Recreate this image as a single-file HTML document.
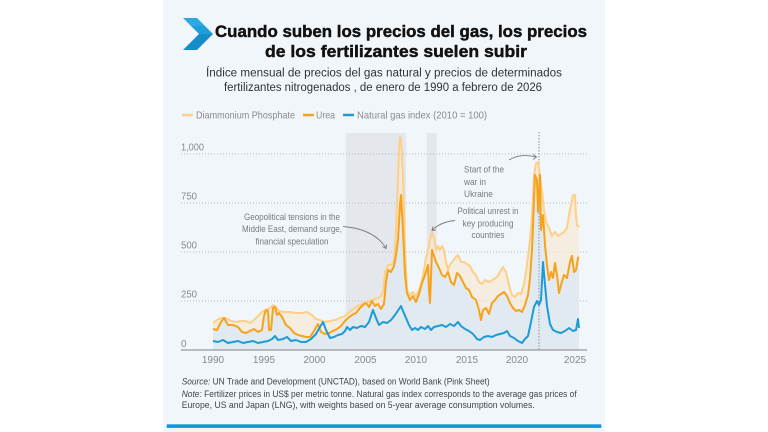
<!DOCTYPE html>
<html><head><meta charset="utf-8">
<style>
html,body{margin:0;padding:0;background:#fff;width:768px;height:432px;overflow:hidden}
svg{display:block}
text{font-family:"Liberation Sans",Arial,sans-serif}
</style></head>
<body>
<svg width="768" height="432" viewBox="0 0 768 432" xmlns="http://www.w3.org/2000/svg">
<rect x="0" y="0" width="768" height="432" fill="#ffffff"/>
<rect x="163" y="0" width="442" height="432" fill="#f1f6fb"/>

<!-- chevron -->
<polygon points="183,18 197,18 205,26 191,26" fill="#2aa9e2"/>
<polygon points="191,26 205,26 213,34 199,34" fill="#1f9ed9"/>
<polygon points="199,34 213,34 197,50 183,50" fill="#168ccb"/>

<!-- title -->
<text x="215" y="37" font-size="17" font-weight="bold" fill="#111" stroke="#111" stroke-width="0.45" textLength="372" lengthAdjust="spacingAndGlyphs">Cuando suben los precios del gas, los precios</text>
<text x="265" y="57" font-size="17" font-weight="bold" fill="#111" stroke="#111" stroke-width="0.45" textLength="262" lengthAdjust="spacingAndGlyphs">de los fertilizantes suelen subir</text>
<text x="206" y="76.5" font-size="11.5" fill="#333" textLength="356" lengthAdjust="spacingAndGlyphs">Índice mensual de precios del gas natural y precios de determinados</text>
<text x="224" y="91" font-size="11.5" fill="#333" textLength="318" lengthAdjust="spacingAndGlyphs">fertilizantes nitrogenados , de enero de 1990 a febrero de 2026</text>

<!-- legend -->
<line x1="182" y1="115" x2="193" y2="115" stroke="#fcd08a" stroke-width="2.5"/>
<text x="196" y="118.5" font-size="10.5" fill="#8a8a8a" textLength="99" lengthAdjust="spacingAndGlyphs">Diammonium Phosphate</text>
<line x1="303" y1="115" x2="314" y2="115" stroke="#f7a21b" stroke-width="2.5"/>
<text x="316" y="118.5" font-size="10.5" fill="#8a8a8a" textLength="19" lengthAdjust="spacingAndGlyphs">Urea</text>
<line x1="343" y1="115" x2="354" y2="115" stroke="#1d9bd7" stroke-width="2.5"/>
<text x="357" y="118.5" font-size="10.5" fill="#8a8a8a" textLength="130" lengthAdjust="spacingAndGlyphs">Natural gas index (2010 = 100)</text>

<!-- shaded periods -->
<rect x="345.7" y="133" width="60.3" height="217" fill="#e4e8ed"/>
<rect x="426.7" y="133" width="10" height="217" fill="#e4e8ed"/>

<!-- gridlines -->
<g stroke="#b5b9bf" stroke-width="0.9" stroke-dasharray="1 2">
<line x1="181" y1="154" x2="587" y2="154"/>
<line x1="181" y1="203" x2="587" y2="203"/>
<line x1="181" y1="252" x2="587" y2="252"/>
<line x1="181" y1="301" x2="587" y2="301"/>
</g>

<!-- DAP area -->
<polygon fill="#f6ead5" fill-opacity="0.75" points="213,323 217,320 221,318 226,318 231,321 236,322 241,321 246,321 250,323 254,320 258,316 262,312 266,310 270,308 273,305 276,307 279,311 284,312 290,312 296,313 302,313 307,312 312,315 316,319 320,320 325,322 330,321 335,320 340,318 345,316 348,313 352,310 356,307 360,305 364,303 368,302 372,300 376,299 380,297 383,292 385,272 388,265 391,265 394,262 396,230 398,180 399,150 400,137 401,140 403,175 405,250 407,290 410,295 413,292 416,296 419,290 422,280 424,270 426,258 428,250 430,240 432,232 434,238 436,250 438,246 440,250 442,246 444,250 446,262 448,270 450,265 452,262 455,258 458,255 461,262 464,262 467,264 470,266 473,272 476,275 479,282 482,284 485,280 488,282 491,281 494,279 497,277 500,272 503,267 506,272 509,285 512,295 515,297 518,293 521,294 524,285 527,265 530,240 532,215 534,175 536,163 538,162 540,175 542,192 544,210 546,222 549,228 552,236 555,232 558,236 561,234 564,232 567,228 569,215 571,205 573,195 575,195 576,215 577,225 579,227 579,350 213,350"/>
<!-- Urea area -->
<polygon fill="#d8e8f6" fill-opacity="0.7" points="213,329 217,330 221,322 224,318 228,325 233,325 238,327 242,332 246,333 250,331 254,329 258,332 262,330 264,316 266,310 268,311 269,330 271,330 273,308 275,307 277,315 279,313 282,317 286,325 290,328 294,333 298,335 302,336 306,337 310,337 314,331 318,324 321,332 325,334 329,333 333,331 337,329 341,326 345,321 348,318 352,315 356,313 360,308 363,305 366,303 369,307 372,301 375,306 378,304 381,309 384,304 386,282 388,270 391,272 394,266 396,255 398,240 400,205 401,195 403,230 405,275 407,293 410,300 413,296 416,302 419,294 422,283 425,275 428,265 429,290 430,303 432,250 434,256 436,262 439,268 442,275 445,277 448,272 451,282 454,285 457,273 460,276 463,282 466,288 469,290 472,297 476,300 479,310 481,320 483,310 486,308 489,314 492,303 495,300 498,296 501,294 504,292 507,296 510,303 513,308 516,311 519,310 522,312 525,305 528,295 530,278 532,250 534,200 535,175 537,180 538,212 540,175 541,230 543,215 545,245 547,265 549,280 551,272 553,278 555,263 557,275 559,293 561,285 564,275 567,278 570,262 572,256 574,272 576,270 578,258 579,257 579,350 213,350"/>

<!-- vertical dotted line -->
<line x1="539" y1="132" x2="539" y2="350" stroke="#8792a2" stroke-width="1" stroke-dasharray="1.5 1.5"/>

<!-- DAP line -->
<polyline fill="none" stroke="#fdcf88" stroke-width="2" stroke-linejoin="round" points="213,323 217,320 221,318 226,318 231,321 236,322 241,321 246,321 250,323 254,320 258,316 262,312 266,310 270,308 273,305 276,307 279,311 284,312 290,312 296,313 302,313 307,312 312,315 316,319 320,320 325,322 330,321 335,320 340,318 345,316 348,313 352,310 356,307 360,305 364,303 368,302 372,300 376,299 380,297 383,292 385,272 388,265 391,265 394,262 396,230 398,180 399,150 400,137 401,140 403,175 405,250 407,290 410,295 413,292 416,296 419,290 422,280 424,270 426,258 428,250 430,240 432,232 434,238 436,250 438,246 440,250 442,246 444,250 446,262 448,270 450,265 452,262 455,258 458,255 461,262 464,262 467,264 470,266 473,272 476,275 479,282 482,284 485,280 488,282 491,281 494,279 497,277 500,272 503,267 506,272 509,285 512,295 515,297 518,293 521,294 524,285 527,265 530,240 532,215 534,175 536,163 538,162 540,175 542,192 544,210 546,222 549,228 552,236 555,232 558,236 561,234 564,232 567,228 569,215 571,205 573,195 575,195 576,215 577,225 579,227"/>
<!-- Urea line -->
<polyline fill="none" stroke="#f7a21b" stroke-width="2" stroke-linejoin="round" points="213,329 217,330 221,322 224,318 228,325 233,325 238,327 242,332 246,333 250,331 254,329 258,332 262,330 264,316 266,310 268,311 269,330 271,330 273,308 275,307 277,315 279,313 282,317 286,325 290,328 294,333 298,335 302,336 306,337 310,337 314,331 318,324 321,332 325,334 329,333 333,331 337,329 341,326 345,321 348,318 352,315 356,313 360,308 363,305 366,303 369,307 372,301 375,306 378,304 381,309 384,304 386,282 388,270 391,272 394,266 396,255 398,240 400,205 401,195 403,230 405,275 407,293 410,300 413,296 416,302 419,294 422,283 425,275 428,265 429,290 430,303 432,250 434,256 436,262 439,268 442,275 445,277 448,272 451,282 454,285 457,273 460,276 463,282 466,288 469,290 472,297 476,300 479,310 481,320 483,310 486,308 489,314 492,303 495,300 498,296 501,294 504,292 507,296 510,303 513,308 516,311 519,310 522,312 525,305 528,295 530,278 532,250 534,200 535,175 537,180 538,212 540,175 541,230 543,215 545,245 547,265 549,280 551,272 553,278 555,263 557,275 559,293 561,285 564,275 567,278 570,262 572,256 574,272 576,270 578,258 579,257"/>
<!-- Gas line -->
<polyline fill="none" stroke="#1d9bd7" stroke-width="2" stroke-linejoin="round" points="213,341 218,342 223,340 228,343 233,342 238,341 243,343 248,342 253,341 258,343 263,342 268,341 272,339 275,336 278,340 283,339 287,337 291,341 296,340 301,342 306,342 311,339 316,334 320,327 323,322 326,330 330,338 334,337 338,335 342,334 345,331 347,327 350,330 353,327 357,328 361,326 365,327 369,322 373,310 376,318 379,325 383,322 387,323 391,320 395,315 399,309 401,306 403,311 406,318 409,325 412,330 415,328 418,330 421,327 425,329 428,326 431,330 434,327 438,326 442,325 446,327 450,324 454,326 458,322 461,326 465,329 469,331 473,334 477,339 480,340 484,337 488,336 492,337 496,335 500,334 504,333 507,331 510,336 514,338 518,341 522,343 525,339 528,336 531,322 534,307 537,301 539,305 541,300 543,262 545,285 547,306 550,324 553,330 557,332 561,333 565,331 569,328 573,331 576,330 578,319 579,328"/>

<!-- axis -->
<line x1="181" y1="350" x2="587" y2="350" stroke="#9a9a9a" stroke-width="1.2"/>

<!-- y labels -->
<g font-size="10" fill="#8a8a8a">
<text x="181" y="150.5" textLength="23" lengthAdjust="spacingAndGlyphs">1,000</text>
<text x="181" y="199.5" textLength="16" lengthAdjust="spacingAndGlyphs">750</text>
<text x="181" y="248.5" textLength="16" lengthAdjust="spacingAndGlyphs">500</text>
<text x="181" y="297.5" textLength="16" lengthAdjust="spacingAndGlyphs">250</text>
<text x="181" y="347" >0</text>
</g>
<!-- x labels -->
<g font-size="10" fill="#888" text-anchor="middle">
<text x="213" y="363">1990</text>
<text x="264" y="363">1995</text>
<text x="314.5" y="363">2000</text>
<text x="365.5" y="363">2005</text>
<text x="416" y="363">2010</text>
<text x="467" y="363">2015</text>
<text x="517" y="363">2020</text>
<text x="575" y="363">2025</text>
</g>

<!-- annotations -->
<g font-size="9.5" fill="#7a7a7a" text-anchor="middle">
<text x="292" y="220" textLength="96" lengthAdjust="spacingAndGlyphs">Geopolitical tensions in the</text>
<text x="292" y="232" textLength="100" lengthAdjust="spacingAndGlyphs">Middle East, demand surge,</text>
<text x="292" y="244.5" textLength="73" lengthAdjust="spacingAndGlyphs">financial speculation</text>
<text x="488" y="214" textLength="61" lengthAdjust="spacingAndGlyphs">Political unrest in</text>
<text x="488" y="226.5" textLength="51" lengthAdjust="spacingAndGlyphs">key producing</text>
<text x="488" y="238" textLength="33" lengthAdjust="spacingAndGlyphs">countries</text>
</g>
<g font-size="9.5" fill="#7a7a7a">
<text x="464" y="172.5" textLength="40" lengthAdjust="spacingAndGlyphs">Start of the</text>
<text x="464" y="185" textLength="22" lengthAdjust="spacingAndGlyphs">war in</text>
<text x="464" y="197" textLength="29" lengthAdjust="spacingAndGlyphs">Ukraine</text>
</g>
<g fill="none" stroke="#7a7a7a" stroke-width="0.9">
<path d="M343,226.5 Q374,229 386,248"/>
<path d="M382.5,246.5 L386,248.5 L386.5,244.5"/>
<path d="M455,220.5 Q440,222 432,230.5"/>
<path d="M433,226.5 L432,230.5 L436,230"/>
<path d="M509,160 Q520,153 536,157"/>
<path d="M533,154.5 L536.5,157 L533,159.5"/>
</g>

<!-- footer -->
<g font-size="9" fill="#444">
<text x="181.7" y="384.5" textLength="308" lengthAdjust="spacingAndGlyphs"><tspan font-style="italic">Source:</tspan> UN Trade and Development (UNCTAD), based on World Bank (Pink Sheet)</text>
<text x="181.7" y="397" textLength="395" lengthAdjust="spacingAndGlyphs"><tspan font-style="italic">Note:</tspan> Fertilizer prices in US$ per metric tonne. Natural gas index corresponds to the average gas prices of</text>
<text x="181.7" y="408" textLength="353" lengthAdjust="spacingAndGlyphs">Europe, US and Japan (LNG), with weights based on 5-year average consumption volumes.</text>
</g>

<rect x="166.7" y="424.3" width="434.6" height="3.6" fill="#1497d8"/>
</svg>
</body></html>
